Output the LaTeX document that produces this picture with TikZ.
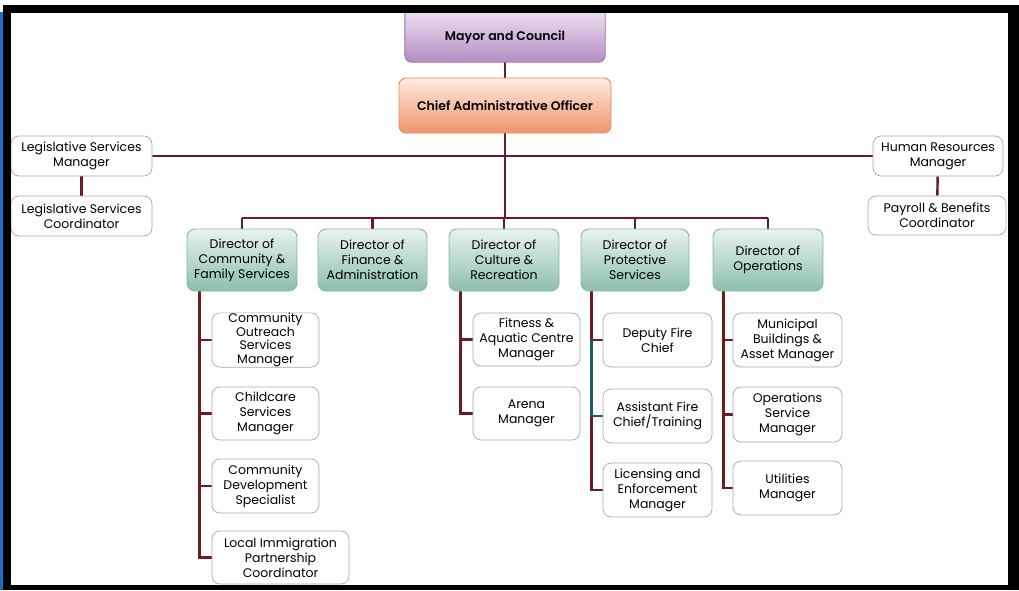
\documentclass[tikz,border=0pt]{standalone}
\usepackage{fontspec}
\setmainfont{Poppins}
\newfontfamily\headfont{Poppins SemiBold}
\usetikzlibrary{calc}
\pgfdeclarelayer{background}
\pgfdeclarelayer{foreground}
\pgfsetlayers{background,main,foreground}
\definecolor{linkred}{HTML}{6E1A22}
\definecolor{linkteal}{HTML}{1F5C68}
\definecolor{mayortop}{HTML}{EBDCF0}
\definecolor{mayorbot}{HTML}{B48CC3}
\definecolor{mayorrim}{HTML}{9C74AC}
\definecolor{caotop}{HTML}{FDEBE3}
\definecolor{caobot}{HTML}{F0956C}
\definecolor{caorim}{HTML}{E38C63}
\definecolor{dirtop}{HTML}{E8F3EE}
\definecolor{dirbot}{HTML}{8CBFAB}
\definecolor{dirrim}{HTML}{86B7A3}
\definecolor{boxrim}{HTML}{A8A8A8}
\definecolor{edgeblue}{HTML}{1A6FC4}
\begin{document}
\begin{tikzpicture}[x=1pt,y=-1pt,
  every node/.style={font=\fontsize{12.5}{15}\selectfont, align=center, inner sep=0pt},
  topbox/.style={rounded corners=7pt, draw=#1rim, line width=0.9pt,
    top color=#1top, bottom color=#1bot, minimum height=54pt,
    font=\fontsize{12.5}{15}\selectfont\headfont},
  dirbox/.style={rounded corners=8pt, draw=dirrim, line width=0.9pt,
    top color=dirtop, bottom color=dirbot, minimum height=62pt},
  staffbox/.style={rounded corners=8pt, draw=boxrim, line width=0.7pt,
    fill=white, minimum height=54pt},
  link/.style={draw=linkred, line width=2.4pt},
  tealink/.style={draw=linkteal, line width=2.4pt}]
\useasboundingbox (0,0) rectangle (1019,590);
\begin{pgfonlayer}{background}
\fill[white] (0,0) rectangle (1019,590);
\end{pgfonlayer}

% top of the chain; the mayor box runs up into the top edge of the frame,
% so only its sides and rounded bottom are drawn
\node[minimum width=200pt, minimum height=49pt, font=\fontsize{12.5}{15}\selectfont\headfont]
  (mayor) at (505,37.5) {\raisebox{2.5pt}{Mayor and Council}};
\begin{pgfonlayer}{background}
\shade[top color=mayortop, bottom color=mayorbot]
  (mayor.north west) -- ($(mayor.south west)+(0,-7)$)
  .. controls ($(mayor.south west)+(0,-3)$) and ($(mayor.south west)+(3,0)$) .. ($(mayor.south west)+(7,0)$)
  -- ($(mayor.south east)+(-7,0)$)
  .. controls ($(mayor.south east)+(-3,0)$) and ($(mayor.south east)+(0,-3)$) .. ($(mayor.south east)+(0,-7)$)
  -- (mayor.north east) -- cycle;
\end{pgfonlayer}
\draw[draw=mayorrim, line width=0.9pt]
  (mayor.north west) -- ($(mayor.south west)+(0,-7)$)
  .. controls ($(mayor.south west)+(0,-3)$) and ($(mayor.south west)+(3,0)$) .. ($(mayor.south west)+(7,0)$)
  -- ($(mayor.south east)+(-7,0)$)
  .. controls ($(mayor.south east)+(-3,0)$) and ($(mayor.south east)+(0,-3)$) .. ($(mayor.south east)+(0,-7)$)
  -- (mayor.north east);
\node[topbox=cao, minimum width=212pt, minimum height=55pt] (cao) at (505,105.5) {Chief Administrative Officer};

% staff offices beside the CAO
\node[staffbox, minimum width=141pt, minimum height=40pt] (lsm) at (81.5,156) {Legislative Services\\Manager};
\node[staffbox, minimum width=141pt, minimum height=40pt] (lsc) at (81.5,216) {Legislative Services\\Coordinator};
\node[staffbox, minimum width=130pt, minimum height=40pt] (hrm) at (938,156) {Human Resources\\Manager};
\node[staffbox, minimum width=138pt, minimum height=39pt] (pay) at (937,215.5) {Payroll \& Benefits\\Coordinator};

% directors
\node[dirbox, minimum width=110pt] (d1) at (242,260) {Director of\\Community \&\\Family Services};
\node[dirbox, minimum width=109pt] (d2) at (372.5,260) {Director of\\Finance \&\\Administration};
\node[dirbox, minimum width=110pt] (d3) at (504,260) {Director of\\Culture \&\\Recreation};
\node[dirbox, minimum width=108pt] (d4) at (635,260) {Director of\\Protective\\Services};
\node[dirbox, minimum width=110pt] (d5) at (768,260) {Director of\\Operations};

% community & family services
\node[staffbox, minimum width=107pt, font=\fontsize{12.5}{13.8}\selectfont] (c1) at (265.5,340) {Community\\Outreach\\Services\\Manager};
\node[staffbox, minimum width=107pt, minimum height=53pt] (c2) at (265.5,413.5) {Childcare\\Services\\Manager};
\node[staffbox, minimum width=107pt] (c3) at (265.5,486) {Community\\Development\\Specialist};
\node[staffbox, minimum width=137pt, minimum height=53pt] (c4) at (280.5,557.5) {Local Immigration\\Partnership\\Coordinator};

% culture & recreation
\node[staffbox, minimum width=107pt, minimum height=53pt] (r1) at (526.5,339.5) {Fitness \&\\Aquatic Centre\\Manager};
\node[staffbox, minimum width=107pt, minimum height=53pt] (r2) at (526.5,413.5) {Arena\\Manager};

% protective services
\node[staffbox, minimum width=109pt] (p1) at (657.5,340) {Deputy Fire\\Chief};
\node[staffbox, minimum width=109pt] (p2) at (657.5,416) {Assistant Fire\\Chief/Training};
\node[staffbox, minimum width=109pt] (p3) at (657.5,490) {Licensing and\\Enforcement\\Manager};

% operations
\node[staffbox, minimum width=109pt] (o1) at (787.5,340) {Municipal\\Buildings \&\\Asset Manager};
\node[staffbox, minimum width=109pt, minimum height=55pt] (o2) at (787.5,414.5) {Operations\\Service\\Manager};
\node[staffbox, minimum width=109pt] (o3) at (787.5,488) {Utilities\\Manager};

% connectors
\coordinate (bus) at (505,218);
\coordinate (s1) at ($(d1.south west)+(13,0)$);
\coordinate (s3) at ($(d3.south west)+(12,0)$);
\coordinate (s4) at ($(d4.south west)+(11,0)$);
\coordinate (s5) at ($(d5.south west)+(11,0)$);

\begin{pgfonlayer}{background}
\draw[link] (mayor.south) -- (cao);
\draw[link] (cao) -- (bus);
\draw[link] (lsm) -- (hrm);
\draw[link] (lsm) -- (lsc);
\draw[link] (hrm) -- (pay);
\draw[link] (d1.north |- bus) -- (d5.north |- bus);
\foreach \d in {d1,d2,d3,d4,d5} \draw[link] (\d.north) -- (\d.north |- bus);
\foreach \c in {c1,c2,c3,c4} \draw[link] (s1) |- (\c.west);
\foreach \c in {r1,r2} \draw[link] (s3) |- (\c.west);
\foreach \c in {p1,p2,p3} \draw[link] (s4) |- (\c.west);
\draw[tealink] (s4 |- p1.west) |- (p2.west);
\foreach \c in {o1,o2,o3} \draw[link] (s5) |- (\c.west);
\end{pgfonlayer}

% page frame
\begin{pgfonlayer}{foreground}
\fill[black] (3,5) rectangle (1019,13);
\fill[black] (3,5) rectangle (11,590);
\fill[black] (1008,5) rectangle (1019,590);
\fill[black] (3,585) rectangle (1019,590);
\fill[edgeblue] (0,12) rectangle (3,590);
\end{pgfonlayer}
\end{tikzpicture}
\end{document}
